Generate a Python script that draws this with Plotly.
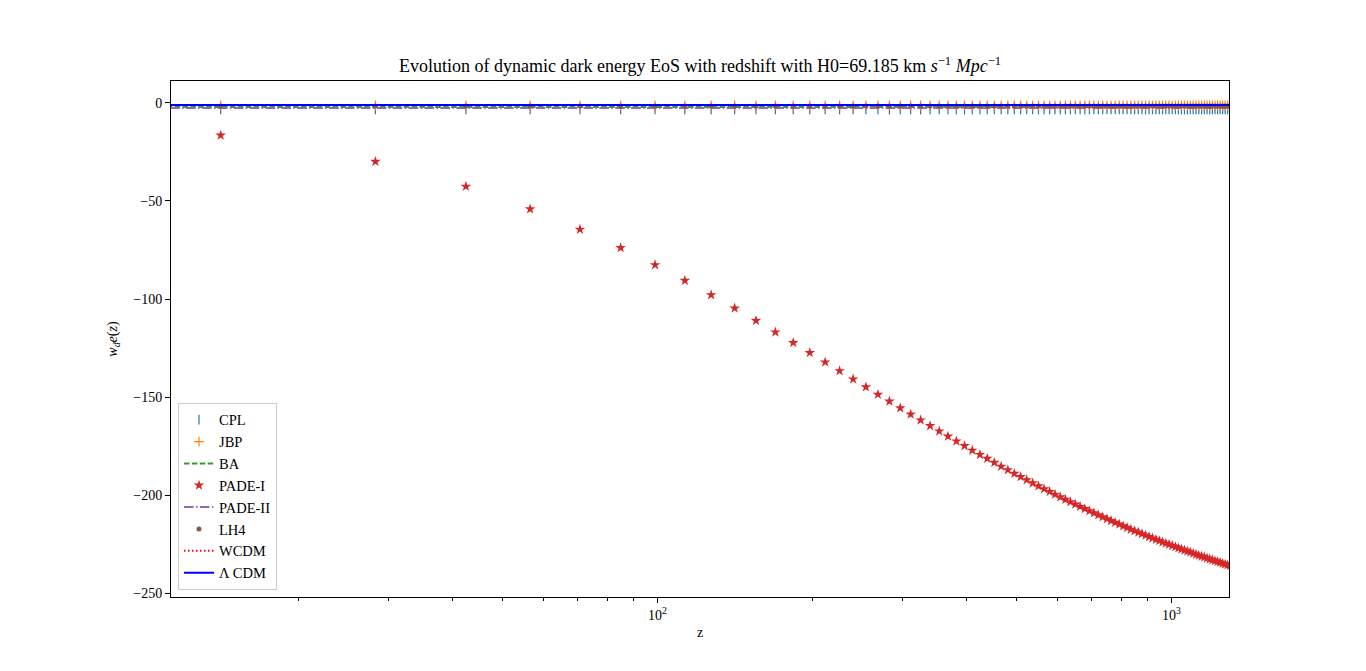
import plotly.graph_objects as go

# redshift samples (markers)
z = [14.13, 28.26, 42.39, 56.52, 70.65, 84.78, 98.91, 113.04, 127.17, 141.30,
     155.43, 169.57, 183.70, 197.83, 211.96, 226.09, 240.22, 254.35, 268.48, 282.61,
     296.74, 310.87, 325.00, 339.13, 353.26, 367.39, 381.52, 395.65, 409.78, 423.91,
     438.04, 452.17, 466.30, 480.43, 494.57, 508.70, 522.83, 536.96, 551.09, 565.22,
     579.35, 593.48, 607.61, 621.74, 635.87, 650.00, 664.13, 678.26, 692.39, 706.52,
     720.65, 734.78, 748.91, 763.04, 777.17, 791.30, 805.43, 819.57, 833.70, 847.83,
     861.96, 876.09, 890.22, 904.35, 918.48, 932.61, 946.74, 960.87, 975.00, 989.13,
     1003.26, 1017.39, 1031.52, 1045.65, 1059.78, 1073.91, 1088.04, 1102.17, 1116.30, 1130.43,
     1144.57, 1158.70, 1172.83, 1186.96, 1201.09, 1215.22, 1229.35, 1243.48, 1257.61, 1271.74,
     1285.87, 1300.00]

cpl_w = [-3.3, -3.3, -3.3, -3.3, -3.3, -3.3, -3.3, -3.3, -3.3, -3.3,
         -3.3, -3.3, -3.3, -3.3, -3.3, -3.3, -3.3, -3.3, -3.3, -3.3,
         -3.3, -3.3, -3.3, -3.3, -3.3, -3.3, -3.3, -3.3, -3.3, -3.3,
         -3.3, -3.3, -3.3, -3.3, -3.3, -3.3, -3.3, -3.3, -3.3, -3.3,
         -3.3, -3.3, -3.3, -3.3, -3.3, -3.3, -3.3, -3.3, -3.3, -3.3,
         -3.3, -3.3, -3.3, -3.3, -3.3, -3.3, -3.3, -3.3, -3.3, -3.3,
         -3.3, -3.3, -3.3, -3.3, -3.3, -3.3, -3.3, -3.3, -3.3, -3.3,
         -3.3, -3.3, -3.3, -3.3, -3.3, -3.3, -3.3, -3.3, -3.3, -3.3,
         -3.3, -3.3, -3.3, -3.3, -3.3, -3.3, -3.3, -3.3, -3.3, -3.3,
         -3.3, -3.3]

jbp_w = [-1.3, -1.3, -1.3, -1.3, -1.3, -1.3, -1.3, -1.3, -1.3, -1.3,
         -1.3, -1.3, -1.3, -1.3, -1.3, -1.3, -1.3, -1.3, -1.3, -1.3,
         -1.3, -1.3, -1.3, -1.3, -1.3, -1.3, -1.3, -1.3, -1.3, -1.3,
         -1.3, -1.3, -1.3, -1.3, -1.3, -1.3, -1.3, -1.3, -1.3, -1.3,
         -1.3, -1.3, -1.3, -1.3, -1.3, -1.3, -1.3, -1.3, -1.3, -1.3,
         -1.3, -1.3, -1.3, -1.3, -1.3, -1.3, -1.3, -1.3, -1.3, -1.3,
         -1.3, -1.3, -1.3, -1.3, -1.3, -1.3, -1.3, -1.3, -1.3, -1.3,
         -1.3, -1.3, -1.3, -1.3, -1.3, -1.3, -1.3, -1.3, -1.3, -1.3,
         -1.3, -1.3, -1.3, -1.3, -1.3, -1.3, -1.3, -1.3, -1.3, -1.3,
         -1.3, -1.3]

lh4_w = [-1.6, -1.6, -1.6, -1.6, -1.6, -1.6, -1.6, -1.6, -1.6, -1.6,
         -1.6, -1.6, -1.6, -1.6, -1.6, -1.6, -1.6, -1.6, -1.6, -1.6,
         -1.6, -1.6, -1.6, -1.6, -1.6, -1.6, -1.6, -1.6, -1.6, -1.6,
         -1.6, -1.6, -1.6, -1.6, -1.6, -1.6, -1.6, -1.6, -1.6, -1.6,
         -1.6, -1.6, -1.6, -1.6, -1.6, -1.6, -1.6, -1.6, -1.6, -1.6,
         -1.6, -1.6, -1.6, -1.6, -1.6, -1.6, -1.6, -1.6, -1.6, -1.6,
         -1.6, -1.6, -1.6, -1.6, -1.6, -1.6, -1.6, -1.6, -1.6, -1.6,
         -1.6, -1.6, -1.6, -1.6, -1.6, -1.6, -1.6, -1.6, -1.6, -1.6,
         -1.6, -1.6, -1.6, -1.6, -1.6, -1.6, -1.6, -1.6, -1.6, -1.6,
         -1.6, -1.6]

pade1_w = [-16.5, -29.9, -42.6, -54.1, -64.5, -73.9, -82.6, -90.6, -97.9, -104.7,
           -111.0, -116.9, -122.3, -127.4, -132.2, -136.7, -140.9, -144.9, -148.7, -152.2,
           -155.6, -158.8, -161.8, -164.7, -167.4, -170.0, -172.5, -174.9, -177.2, -179.4,
           -181.4, -183.4, -185.4, -187.2, -189.0, -190.7, -192.3, -193.9, -195.4, -196.9,
           -198.3, -199.7, -201.0, -202.3, -203.5, -204.7, -205.9, -207.0, -208.1, -209.2,
           -210.2, -211.2, -212.2, -213.1, -214.0, -214.9, -215.8, -216.6, -217.5, -218.3,
           -219.0, -219.8, -220.5, -221.3, -222.0, -222.7, -223.3, -224.0, -224.6, -225.2,
           -225.8, -226.4, -227.0, -227.6, -228.2, -228.7, -229.2, -229.8, -230.3, -230.8,
           -231.3, -231.7, -232.2, -232.7, -233.1, -233.6, -234.0, -234.4, -234.9, -235.3,
           -235.7, -236.1]

# flat model curves spanning the whole redshift range
z_span = [1.0, 1300.0]
ba_w = [-2.1, -2.1]
pade2_w = [-2.6, -2.6]
wcdm_w = [-1.0, -1.0]
lcdm_w = [-1.0, -1.0]

y_ticks = [0, -50, -100, -150, -200, -250]
y_tick_text = ["0", "\u221250", "\u2212100", "\u2212150", "\u2212200", "\u2212250"]
x_ticks = [100, 1000]
x_tick_text = ["10<sup>2</sup>", "10<sup>3</sup>"]
x_minor = [20, 30, 40, 50, 60, 70, 80, 90, 200, 300, 400, 500, 600, 700, 800, 900]

FONT = "Liberation Serif, DejaVu Serif, serif"

fig = go.Figure()
fig.add_trace(go.Scatter(x=z, y=cpl_w, mode="markers", name="CPL", legendgroup="a",
                         marker=dict(symbol="line-ns-open", size=7, color="#1f77b4",
                                     line=dict(width=1.2, color="#1f77b4"))))
fig.add_trace(go.Scatter(x=z, y=jbp_w, mode="markers", name="JBP", legendgroup="b",
                         marker=dict(symbol="cross-thin-open", size=7, color="#ff7f0e",
                                     line=dict(width=1.2, color="#ff7f0e"))))
fig.add_trace(go.Scatter(x=z_span, y=ba_w, mode="lines", name="BA", legendgroup="c",
                         line=dict(color="#2ca02c", width=2, dash="5.5px,2.4px")))
fig.add_trace(go.Scatter(x=z, y=pade1_w, mode="markers", name="PADE-I", legendgroup="d",
                         marker=dict(symbol="star", size=8, color="#d62728",
                                     line=dict(width=0))))
fig.add_trace(go.Scatter(x=z_span, y=pade2_w, mode="lines", name="PADE-II", legendgroup="e",
                         line=dict(color="#9467bd", width=2, dash="9.6px,2.4px,1.5px,2.4px")))
fig.add_trace(go.Scatter(x=z, y=lh4_w, mode="markers", name="LH4", legendgroup="f",
                         marker=dict(symbol="circle", size=5, color="#8c564b",
                                     line=dict(width=0))))
fig.add_trace(go.Scatter(x=z_span, y=wcdm_w, mode="lines", name="WCDM", legendgroup="g",
                         line=dict(color="#ff0000", width=2, dash="1.5px,2.5px")))
fig.add_trace(go.Scatter(x=z_span, y=lcdm_w, mode="lines", name="\u039b CDM", legendgroup="h",
                         line=dict(color="#0000ff", width=2)))

fig.update_layout(
    width=1358, height=663,
    paper_bgcolor="white", plot_bgcolor="white",
    margin=dict(l=163, r=137, t=73, b=74),
    font=dict(family=FONT, size=14, color="black"),
    title=dict(text="Evolution of dynamic dark energy EoS with redshift with H0=69.185 km "
                    "<i>s</i><sup>\u22121</sup> <i>Mpc</i><sup>\u22121</sup>",
               x=0.5, xanchor="center", xref="paper", y=1 - 58 / 663, yanchor="middle",
               font=dict(family=FONT, size=18)),
    showlegend=True,
    legend=dict(x=0.0066, y=0.014, xanchor="left", yanchor="bottom",
                bgcolor="rgba(255,255,255,0.8)", bordercolor="#cccccc", borderwidth=1,
                font=dict(family=FONT, size=14.5), tracegroupgap=0),
    xaxis=dict(type="log", range=[1.0535, 3.1119], showgrid=False, zeroline=False,
               showline=True, linecolor="black", linewidth=1, mirror=True,
               ticks="outside", ticklen=5, tickwidth=1, tickcolor="black",
               tickvals=x_ticks, ticktext=x_tick_text,
               tickfont=dict(family=FONT, size=14),
               minor=dict(tickvals=x_minor, ticks="outside", ticklen=3, tickwidth=0.8,
                          tickcolor="black", showgrid=False),
               title=dict(text="z", font=dict(family=FONT, size=14), standoff=5)),
    yaxis=dict(range=[-252.0, 11.2], showgrid=False, zeroline=False,
               showline=True, linecolor="black", linewidth=1, mirror=True,
               ticks="outside", ticklen=5, tickwidth=1, tickcolor="black",
               tickvals=y_ticks, ticktext=y_tick_text,
               tickfont=dict(family=FONT, size=14),
               title=dict(text="<i>w</i><sub><i>d</i></sub><i>e</i>(<i>z</i>)",
                          font=dict(family=FONT, size=14), standoff=12)),
)

fig.write_html("out.html")
